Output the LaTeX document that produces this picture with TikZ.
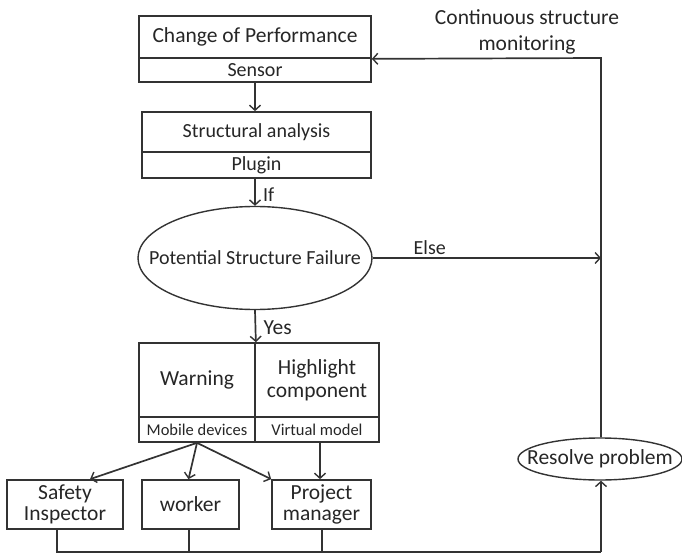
\documentclass[tikz,border=0pt]{standalone}
\usepackage{fontspec}
\setmainfont{Carlito}
\usetikzlibrary{arrows.meta,shapes.geometric,calc}
\begin{document}
\begin{tikzpicture}[x=1pt,y=-1pt,
  every node/.style={text=black!85},
  cell/.style={draw=black!80,line width=1.7pt,inner sep=0pt,anchor=center},
  oval/.style={draw=black!80,line width=1.4pt,ellipse,inner sep=0pt},
  conn/.style={draw=black!80,line width=1.7pt},
  arr/.style={conn,-{Straight Barb[length=5pt,width=11pt,line width=1.4pt]}},
  big/.style={font=\fontsize{21.5}{25}\selectfont},
  mid/.style={font=\fontsize{20}{24}\selectfont},
  small/.style={font=\fontsize{16.5}{20}\selectfont}]
\useasboundingbox (0,0) rectangle (682,553);
% top box
\node[cell,big,minimum width=232pt,minimum height=42pt] (perf) at (255,37) {Change of Performance};
\node[cell,mid,minimum width=232pt,minimum height=24pt] (sensor) at (255,70) {Sensor};
% structural analysis
\node[cell,mid,minimum width=229pt,minimum height=40pt] (struct) at (256.5,132) {Structural analysis};
\node[cell,mid,minimum width=229pt,minimum height=26pt] (plugin) at (256.5,165) {Plugin};
% decision
\node[oval,minimum width=234pt,minimum height=103pt] (psf) at (255,258) {};
\node[mid] (psftext) at (255,258) {Potential Structure Failure};
% warning block
\node[cell,big,minimum width=116pt,minimum height=74pt] (warn) at (197,380) {Warning};
\node[cell,big,minimum width=124pt,minimum height=74pt,align=center] (high) at (317,380) {Highlight\\[-2pt]component};
\node[cell,small,minimum width=116pt,minimum height=25pt] (mobile) at (197,429.5) {Mobile devices};
\node[cell,small,minimum width=124pt,minimum height=25pt] (virt) at (317,429.5) {Virtual model};
% bottom boxes
\node[cell,big,minimum width=116pt,minimum height=49pt,align=center] (safety) at (65,504.5) {Safety\\[-4pt]Inspector};
\node[cell,big,minimum width=97pt,minimum height=49pt] (worker) at (190.5,504.5) {worker};
\node[cell,big,minimum width=99pt,minimum height=49pt,align=center] (pm) at (321.5,504.5) {Project\\[-4pt]manager};
% resolve
\node[oval,minimum width=164pt,minimum height=42pt] (resolve) at (600,459) {};
\node[big] (restext) at (600,459) {Resolve problem};
% labels
\node[big,align=center] (cont) at (527,32) {Continuous structure\\[1pt]monitoring};
\coordinate (elseend) at (601,258);
\coordinate (topright) at (601,58);
\coordinate (bl) at (57,552);
\coordinate (br) at (601,552);
% connectors
\draw[arr] (sensor.south) -- (struct.north -| sensor.south);
\draw[arr] (plugin.south -| psf.north) -- node[right,mid,xshift=4pt,yshift=-2pt] (iflab) {If} (psf.north);
\draw[arr] (psf.east) -- node[above,mid,pos=0.25,yshift=-1pt] (elselab) {Else} (elseend);
\draw[arr] (psf.south) -- node[right,big,xshift=4pt,yshift=-2pt] (yeslab) {Yes} (warn.north east);
\draw[arr] (mobile.south) -- ([xshift=25pt]safety.north);
\draw[arr] (mobile.south) -- ([xshift=-2pt]worker.north);
\draw[arr] (mobile.south) -- (pm.north west);
\draw[arr] ([xshift=3pt]virt.south) -- ([xshift=-1.5pt]pm.north);
\draw[conn] ([xshift=-8pt]safety.south) -- (bl) -- (br);
\draw[conn] ([xshift=-1.5pt]worker.south) -- ([xshift=-1.5pt]worker.south |- bl);
\draw[conn] ([xshift=0.5pt]pm.south) -- ([xshift=0.5pt]pm.south |- bl);
\draw[arr] (br) -- ([xshift=1pt]resolve.south);
\draw[arr] ([xshift=1pt]resolve.north) -- (topright) -- (perf.south east);
\end{tikzpicture}
\end{document}
